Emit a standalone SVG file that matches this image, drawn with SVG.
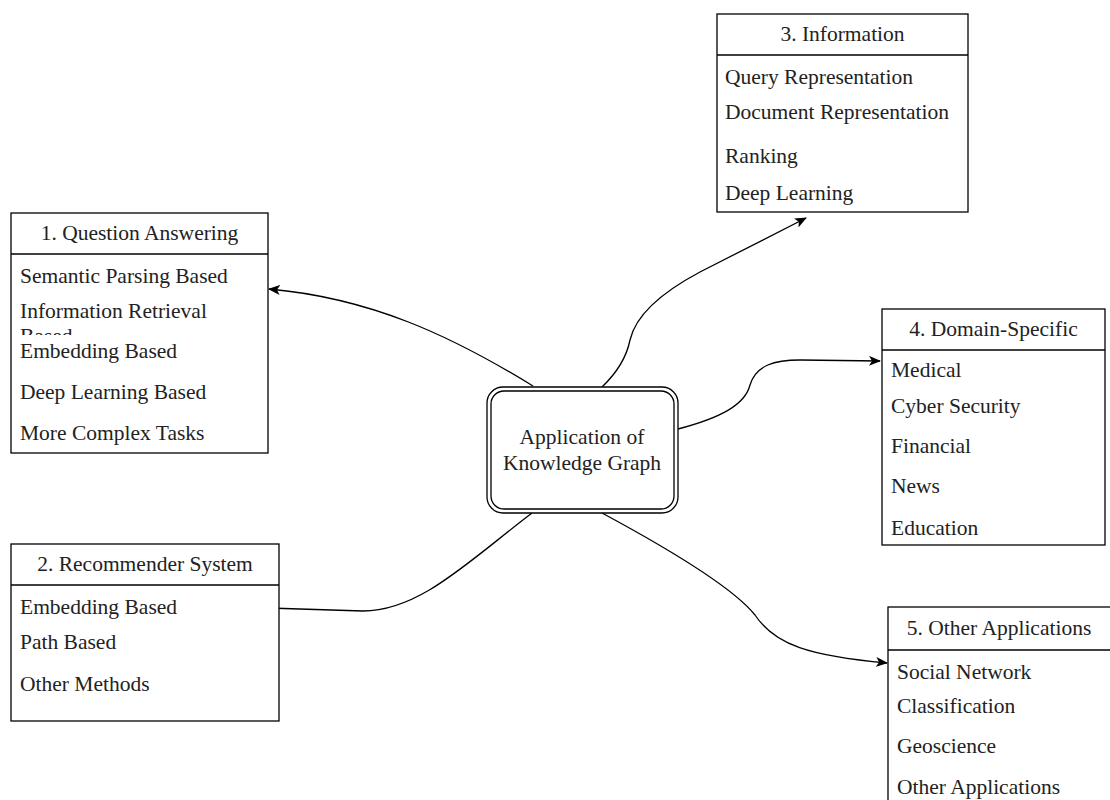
<svg xmlns="http://www.w3.org/2000/svg" width="1110" height="800" viewBox="0 0 1110 800">
<defs>
<style>
.box{fill:#fff;stroke:#000;stroke-width:1.3}
.t{font-family:'Liberation Serif','Times New Roman','DejaVu Serif',serif;font-size:21.5px;fill:#222}
.h{text-anchor:middle}
.c{fill:none;stroke:#000;stroke-width:1.3}
</style>
<marker id="arr" viewBox="0 0 12 10" refX="11" refY="5" markerWidth="12" markerHeight="10" markerUnits="userSpaceOnUse" orient="auto">
<path d="M0,0 L12,5 L0,10 L3,5 Z" fill="#000"/>
</marker>
<clipPath id="clipInfo"><rect x="11" y="290" width="257" height="45"/></clipPath>
</defs>
<rect width="1110" height="800" fill="#fff"/>

<g id="connectors">
<path class="c" d="M533,386 C 450,335 370,298 269,289" marker-end="url(#arr)"/>
<path class="c" d="M532,513 C 470,560 420,611 363,611 L 268,608" marker-end="url(#arr)"/>
<path class="c" d="M602,387 Q 625,365 630,340 Q 638,305 700,272 L 806,218" marker-end="url(#arr)"/>
<path class="c" d="M678,429 C 720,418 745,405 750,385 C 756,365 775,360 800,360 L 880,361" marker-end="url(#arr)"/>
<path class="c" d="M602,513 C 680,555 735,590 755,615 C 775,645 810,656 887,663" marker-end="url(#arr)"/>
</g>

<g id="center">
<rect x="487" y="387" width="191" height="126" rx="16" ry="16" fill="#fff" stroke="#000" stroke-width="1.3"/>
<rect x="491" y="391" width="183" height="118" rx="13" ry="13" fill="none" stroke="#000" stroke-width="1.3"/>
<text class="t h" x="582" y="444" font-family="Liberation Serif, serif">Application of</text>
<text class="t h" x="582" y="470" font-family="Liberation Serif, serif">Knowledge Graph</text>
</g>

<g id="qa">
<rect class="box" x="11" y="213" width="257" height="240"/>
<line class="c" x1="11" y1="254" x2="268" y2="254"/>
<text class="t h" x="139.5" y="240">1. Question Answering</text>
<text class="t" x="20" y="283">Semantic Parsing Based</text>
<text class="t" x="20" y="318" clip-path="url(#clipInfo)">Information Retrieval<tspan x="20" dy="25">Based</tspan></text>
<text class="t" x="20" y="358">Embedding Based</text>
<text class="t" x="20" y="399">Deep Learning Based</text>
<text class="t" x="20" y="440">More Complex Tasks</text>
</g>

<g id="rec">
<rect class="box" x="11" y="544" width="268" height="177"/>
<line class="c" x1="11" y1="585" x2="279" y2="585"/>
<text class="t h" x="145" y="571">2. Recommender System</text>
<text class="t" x="20" y="614">Embedding Based</text>
<text class="t" x="20" y="649">Path Based</text>
<text class="t" x="20" y="691">Other Methods</text>
</g>

<g id="info">
<rect class="box" x="717" y="14" width="251" height="198"/>
<line class="c" x1="717" y1="55" x2="968" y2="55"/>
<text class="t h" x="842.5" y="41">3. Information</text>
<text class="t" x="725" y="84">Query Representation</text>
<text class="t" x="725" y="119">Document Representation</text>
<text class="t" x="725" y="163">Ranking</text>
<text class="t" x="725" y="200">Deep Learning</text>
</g>

<g id="domain">
<rect class="box" x="882" y="309" width="223" height="236"/>
<line class="c" x1="882" y1="350" x2="1105" y2="350"/>
<text class="t h" x="993.5" y="336">4. Domain-Specific</text>
<text class="t" x="891" y="377">Medical</text>
<text class="t" x="891" y="413">Cyber Security</text>
<text class="t" x="891" y="453">Financial</text>
<text class="t" x="891" y="493">News</text>
<text class="t" x="891" y="535">Education</text>
</g>

<g id="other">
<rect class="box" x="888" y="607" width="224" height="200"/>
<line class="c" x1="888" y1="650" x2="1112" y2="650"/>
<text class="t h" x="999" y="635">5. Other Applications</text>
<text class="t" x="897" y="679">Social Network</text>
<text class="t" x="897" y="713">Classification</text>
<text class="t" x="897" y="753">Geoscience</text>
<text class="t" x="897" y="794">Other Applications</text>
</g>
</svg>
